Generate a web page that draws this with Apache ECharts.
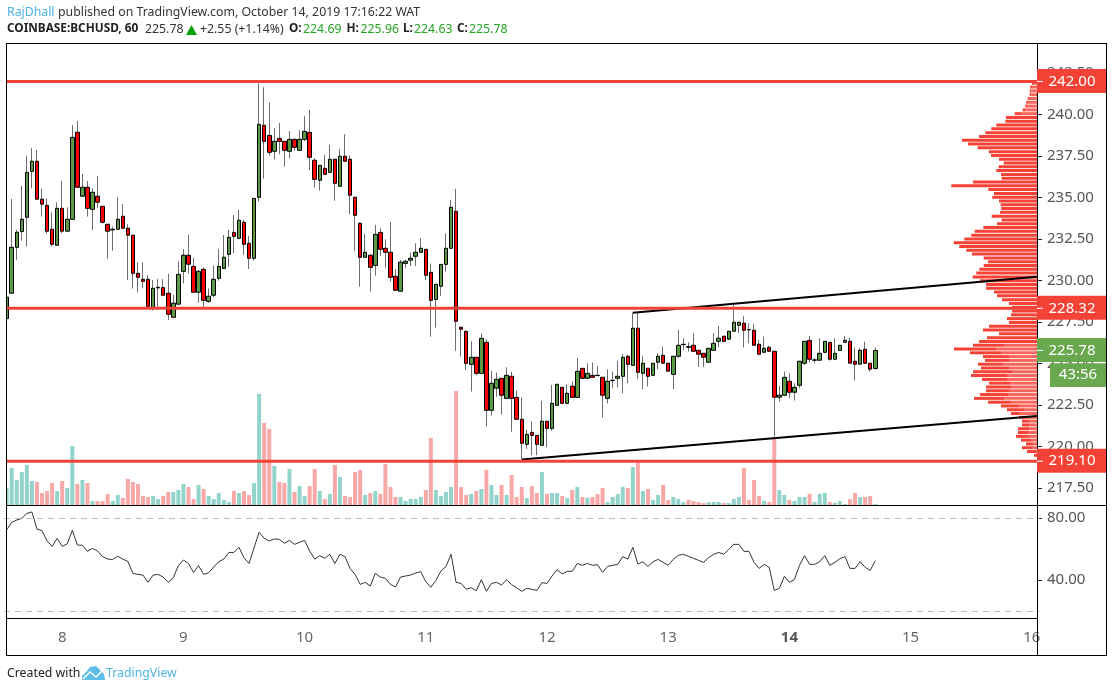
<!DOCTYPE html>
<html style="height: 100%">

<head>
    <meta charset="utf-8">
</head>

<body style="height: 100%; margin: 0; background: #fff">
    <div id="container" style="width: 1113px; height: 691px"></div>
    <script src="https://cdn.jsdelivr.net/npm/echarts@6/dist/echarts.min.js"></script>
    <script type="text/javascript">
        // hourly BCHUSD bars
        var candleOpen = [227.70,229.23,232.00,232.95,233.81,236.58,237.19,234.90,234.53,233.09,
            232.12,234.35,232.97,233.69,238.94,235.08,235.62,234.29,235.08,234.47,
            233.39,233.05,233.09,233.87,233.15,232.73,230.43,230.07,230.07,228.38,
            229.55,229.57,229.23,227.78,228.57,230.55,231.52,230.85,229.29,230.67,
            228.74,229.11,230.13,230.73,231.58,232.90,232.54,233.51,232.24,231.34,
            235.01,239.36,238.75,237.79,238.57,238.39,237.79,238.51,237.85,238.51,
            238.93,237.25,236.04,236.76,236.52,237.31,235.68,237.49,237.31,235.02,
            233.45,231.40,231.52,230.91,232.90,231.94,231.70,230.25,229.35,231.03,
            231.22,231.46,231.70,231.88,230.49,228.86,229.65,230.97,231.94,234.17,
            227.18,226.93,224.94,225.37,224.40,226.27,222.17,223.50,224.10,222.89,
            224.22,222.95,221.63,220.12,220.84,220.66,220.06,221.51,221.08,222.47,
            223.56,222.59,223.62,222.95,224.70,224.10,224.28,224.28,224.16,222.89,
            223.96,224.10,224.22,225.43,224.88,227.12,224.40,224.71,224.28,225.07,
            225.49,225.01,224.34,225.43,226.13,226.01,226.09,225.79,225.61,225.07,
            225.79,226.33,226.64,226.46,226.94,227.30,227.42,227.04,227.00,226.15,
            225.67,225.97,225.73,222.96,223.08,223.92,223.26,223.68,225.01,226.39,
            225.19,225.19,225.67,226.27,225.25,225.79,226.27,226.33,225.13,224.95,
            225.85,225.01,224.69];
        var candleClose = [228.99,232.00,232.91,233.69,236.52,237.19,234.90,234.60,232.97,232.18,
            234.35,232.97,233.69,238.63,235.62,235.62,234.35,235.32,234.72,233.51,
            232.97,233.09,233.69,233.15,232.73,230.43,230.19,229.95,228.44,229.53,
            229.59,229.11,227.96,228.63,230.37,231.52,230.98,229.29,230.55,228.80,
            229.05,230.07,230.85,231.40,232.60,232.66,233.63,232.18,231.34,234.95,
            239.42,238.39,237.73,238.39,238.39,237.85,238.51,238.03,238.51,238.99,
            237.43,236.10,236.94,236.40,237.31,235.86,237.49,237.19,235.14,233.93,
            231.40,231.70,230.79,232.78,231.88,231.70,230.19,229.41,231.10,231.16,
            231.34,231.70,231.94,230.31,228.80,229.77,230.97,231.94,234.41,227.54,
            227.06,225.00,225.37,224.40,226.51,222.17,223.80,224.04,223.08,224.28,
            222.89,221.63,220.18,220.72,220.66,220.12,221.51,221.08,222.59,223.74,
            222.59,223.20,222.95,224.52,224.10,224.40,224.16,224.26,223.08,223.92,
            223.98,224.22,225.37,224.94,227.12,224.46,225.01,224.22,225.01,225.43,
            225.01,224.53,225.43,226.09,226.15,225.97,225.73,225.55,225.37,225.91,
            226.21,226.52,226.33,226.94,227.48,227.48,227.00,227.02,226.09,225.55,
            225.91,225.73,222.96,223.08,224.16,223.26,223.56,225.13,226.33,225.25,
            225.21,225.61,226.33,225.25,225.61,226.09,226.39,225.01,224.95,225.79,
            225.01,224.65,225.78];
        var candleHigh = [228.99,234.92,233.05,235.70,237.51,237.99,237.87,235.52,234.96,234.11,
            234.71,236.00,234.41,239.38,239.62,236.42,236.00,235.56,236.30,234.47,
            233.39,233.25,235.02,234.61,233.39,232.73,231.10,231.10,230.33,230.03,
            230.09,230.09,230.39,229.13,231.14,231.90,232.75,231.36,230.63,230.79,
            229.53,230.91,231.90,232.74,233.05,233.95,234.25,233.65,232.68,234.95,
            241.89,241.65,240.74,239.18,239.50,238.39,239.01,238.57,239.05,239.92,
            240.28,237.37,236.94,237.57,238.17,237.31,237.93,238.81,237.55,235.02,
            233.51,232.80,231.58,233.35,233.15,232.48,233.53,230.69,231.24,231.24,
            231.68,232.24,232.54,231.88,231.03,229.77,230.97,232.84,234.85,235.52,
            227.18,227.01,226.33,225.37,226.81,226.45,224.54,224.44,224.10,224.76,
            224.50,223.36,222.95,220.98,221.51,220.66,222.75,221.51,223.70,223.74,
            223.56,223.74,223.92,225.33,224.70,225.00,225.04,224.84,224.16,224.64,
            224.50,225.15,225.57,225.51,228.06,228.06,225.45,224.71,225.01,225.61,
            226.01,225.01,225.43,227.02,226.52,226.27,226.82,225.79,225.61,225.91,
            226.82,227.26,226.64,226.94,228.55,227.48,227.86,227.42,227.38,226.41,
            226.62,226.05,225.73,223.64,224.51,224.40,223.80,225.13,226.33,226.65,
            225.31,226.52,226.33,226.27,226.52,226.09,226.65,226.56,225.95,225.91,
            226.31,225.01,225.96];
        var candleLow = [227.70,229.23,231.24,232.40,232.04,235.56,234.90,233.85,232.81,232.04,
            232.12,232.85,232.97,233.69,235.62,235.08,233.85,233.05,234.35,233.45,
            231.30,231.80,233.09,233.15,230.03,229.51,229.29,229.53,228.44,228.18,
            228.22,229.11,227.62,227.78,228.57,229.83,230.43,229.29,228.66,228.38,
            228.66,228.98,229.99,230.67,230.83,231.64,232.54,231.54,230.69,231.20,
            234.75,236.14,237.53,237.29,237.61,236.86,237.35,237.83,237.85,238.41,
            236.66,235.60,235.42,236.40,236.52,234.81,235.68,237.19,233.99,231.78,
            229.63,231.40,229.33,230.29,231.48,230.77,229.93,229.41,229.35,230.77,
            230.87,230.87,231.70,230.03,226.61,227.16,229.07,230.53,231.94,225.75,
            225.41,224.60,223.30,224.28,224.40,221.19,221.85,222.99,221.91,222.89,
            220.88,221.63,219.22,219.84,219.46,219.46,220.06,219.94,220.94,222.47,
            222.59,222.59,222.95,222.95,224.10,224.10,224.16,224.26,221.73,222.59,
            223.50,223.56,223.20,223.80,224.88,224.06,223.44,223.60,224.28,224.65,
            225.01,224.53,223.44,225.31,225.81,225.71,225.73,224.79,224.77,225.07,
            225.79,225.97,226.27,226.41,226.94,226.82,225.97,226.21,226.09,225.55,
            225.61,225.73,220.59,222.70,223.04,222.90,222.76,223.50,224.91,225.05,
            225.01,225.19,225.61,225.17,225.25,225.79,226.27,225.01,223.96,224.95,
            224.97,224.51,224.63];
        var volumes = [17,37,25,33,40,24,23,12,14,22,14,24,17,59,21,25,22,4,4,4,
            11,4,10,7,26,23,21,9,8,9,6,9,13,13,15,21,18,6,20,16,
            9,6,12,5,3,14,12,14,10,22,111,82,76,39,23,22,36,13,19,9,
            19,36,14,6,11,40,28,9,8,33,35,10,12,14,11,41,18,8,8,4,
            6,6,8,15,67,15,9,13,18,114,18,10,11,14,16,35,20,10,20,10,
            30,8,18,7,19,12,33,11,12,12,9,7,15,18,8,7,8,11,17,3,
            8,11,18,17,38,42,14,16,5,10,20,5,8,6,3,5,4,3,2,3,
            3,3,2,2,6,8,37,5,25,9,4,3,68,15,10,5,4,8,8,11,
            3,11,12,3,2,4,1,6,12,8,8,9,1];
        var rsiValues = [72.3,77.2,78.7,79.8,83.0,83.9,72.9,71.8,65.2,61.7,66.9,61.7,63.4,72.0,62.6,62.4,58.5,60.4,58.7,55.1,
            53.5,53.3,55.3,53.5,52.0,44.3,43.6,43.2,38.5,43.2,43.6,41.9,38.5,41.5,49.3,52.9,50.7,44.9,49.3,43.6,
            44.7,48.4,51.8,53.5,57.8,57.8,61.1,54.4,50.7,60.9,70.8,66.9,65.2,66.5,66.2,63.7,65.6,63.0,64.3,65.6,
            58.7,53.5,55.7,54.0,56.6,50.7,56.6,55.1,47.5,43.6,37.2,38.5,36.1,44.3,41.9,41.1,37.2,35.5,41.9,42.6,
            43.2,44.5,45.4,38.9,35.3,39.8,45.8,48.8,56.6,38.5,37.8,34.0,35.0,33.1,40.2,32.7,37.8,38.5,36.8,40.2,
            37.0,35.0,32.7,34.6,34.0,33.3,38.3,37.8,42.6,46.7,43.9,45.6,45.6,50.7,49.5,50.7,49.5,49.9,44.9,48.8,
            49.5,50.1,55.1,53.5,61.1,50.3,51.8,48.8,51.8,53.3,51.4,49.5,53.3,55.9,56.6,55.3,54.0,52.7,51.4,54.4,
            56.6,57.8,56.6,59.8,63.0,63.0,58.5,58.5,51.4,47.5,50.1,48.2,33.3,34.6,42.4,38.5,40.4,49.5,55.7,50.1,
            50.1,51.8,55.7,49.5,51.4,53.8,55.1,47.5,47.5,51.8,48.2,46.2,52.5];
        // volume profile rows, top to bottom
        var profileTotal = [5,6.7,7.3,7.3,9.3,10.7,11.7,14.3,22.3,31,31.7,40.7,45.7,51.7,58,75,69,59.3,48.3,46,
            38,33.3,38.3,40.7,36,35.3,64,85.7,48.7,43,44.7,38,36.3,35.7,37,45.3,35.3,40,53.7,62.3,
            65.7,72.7,83.3,77.7,70.7,65,53.3,49,53.3,57.7,60.7,64.3,57,51,51,43,40,35,28,25,
            25,26,30,28,48,54,38,50,58,64,83,67,54,52,59,56,64,66,55,48,
            51,51,57,63,49,36,30,26,18,15,15,19,19,21,16,11,15,10,3];
        var profileLight = [4,5,5.5,5.5,7.5,9,10,12,16,0,0,0,0,0,0,0,0,0,0,0,
            0,0,0,0,0,0,0,0,0,0,0,0,0,0,0,0,0,0,0,0,
            0,0,0,0,0,0,0,0,0,0,0,0,0,0,0,0,0,0,0,0,
            0,0,0,0,0,0,0,0,0,33,41,36,28,28,35,28,25,30,30,27,
            26,28,29,33,26,18,13,18,10,8,8,8,9,8,6,4,5,1,0];
        var dayTicks = { 11: '8', 35: '9', 59: '10', 83: '11', 107: '12', 131: '13', 155: '14', 179: '15', 203: '16' };
        var priceTicks = [217.5, 220, 222.5, 225, 227.5, 230, 232.5, 235, 237.5, 240, 242.5];
        var rsiTicks = [40, 80];
        var rsiBands = [80, 20];
        var levels = [242.00, 228.32, 219.10];
        var lastPrice = 225.78;
        var trendUpper = [[124, 228.06], [204, 230.23]];
        var trendLower = [[102, 219.21], [204, 221.83]];

        var barCount = 205;
        var FONT = '"Noto Sans"';
        var UP = '#5B9A44', DOWN = '#FF0000', RED = '#F44336', TAG_GREEN = '#6AA84F';

        var categories = [];
        for (var i = 0; i < barCount; i++) categories.push(dayTicks[i] || '');

        var wickData = candleOpen.map(function(o, i) {
            return [o, candleClose[i], candleLow[i], candleHigh[i]];
        });
        var bodyData = candleOpen.map(function(o, i) {
            var c = candleClose[i];
            return [o, c, Math.min(o, c), Math.max(o, c)];
        });
        var volumeData = volumes.map(function(v, i) {
            return { value: v, itemStyle: { color: candleClose[i] >= candleOpen[i] ? '#92D4CC' : '#F9A8A8' } };
        });

        function levelLine(price) {
            return {
                type: 'line', xAxisIndex: 0, yAxisIndex: 0, z: 2.9, silent: true, showSymbol: false,
                lineStyle: { color: RED, width: 3 }, data: [[0, price], [204, price]]
            };
        }
        function trendLine(points) {
            return {
                type: 'line', xAxisIndex: 0, yAxisIndex: 0, z: 2.8, silent: true, showSymbol: false,
                lineStyle: { color: '#000', width: 2 }, data: points
            };
        }

        var myChart = echarts.init(document.getElementById('container'), null, { renderer: 'canvas' });
        var option = {
            animation: false,
            grid: [
                { left: 4.13, top: 43, width: 1035.25, height: 462 },
                { left: 7, top: 81.4, width: 1030, height: 375.8 },
                { left: 4.13, top: 505, width: 1035.25, height: 113 }
            ],
            xAxis: [
                { type: 'category', gridIndex: 0, data: categories, show: false },
                { type: 'value', gridIndex: 1, inverse: true, min: 0, max: 1030, show: false },
                {
                    type: 'category', gridIndex: 2, data: categories, z: 4,
                    axisLine: { show: false },
                    axisTick: {
                        alignWithLabel: true, length: 4, lineStyle: { color: '#222' },
                        interval: function(idx) { return !!dayTicks[idx]; }
                    },
                    axisLabel: {
                        interval: function(idx) { return !!dayTicks[idx]; },
                        color: '#666', fontFamily: FONT, fontSize: 15, margin: 12,
                        formatter: function(v) { return v === '14' ? '{b|14}' : v; },
                        rich: { b: { fontWeight: 'bold', color: '#555', fontFamily: FONT, fontSize: 15 } }
                    }
                }
            ],
            yAxis: [
                {
                    type: 'value', gridIndex: 0, position: 'right', offset: -2.38, min: 216.46, max: 244.32, z: 4,
                    splitLine: { show: false }, axisLine: { show: false },
                    axisTick: { show: true, length: 5, lineStyle: { color: '#222' }, customValues: priceTicks },
                    axisLabel: {
                        color: '#555', fontFamily: FONT, fontSize: 15, margin: 10, padding: [2, 0, 0, 0], customValues: priceTicks,
                        formatter: function(v) { return v.toFixed(2); }
                    }
                },
                { type: 'value', gridIndex: 0, min: 0, max: 462, show: false },
                { type: 'category', gridIndex: 1, inverse: true, show: false, data: profileTotal.map(function(v, i) { return i; }) },
                {
                    type: 'value', gridIndex: 2, position: 'right', offset: -2.38, min: 15.5, max: 88.4, z: 4,
                    splitLine: { show: false }, axisLine: { show: false },
                    axisTick: { show: true, length: 5, lineStyle: { color: '#222' }, customValues: rsiTicks },
                    axisLabel: {
                        color: '#555', fontFamily: FONT, fontSize: 15, margin: 10, padding: [2, 0, 0, 0], customValues: rsiTicks,
                        formatter: function(v) { return v.toFixed(2); }
                    }
                }
            ],
            series: [
                {
                    type: 'bar', xAxisIndex: 0, yAxisIndex: 1, z: 1, silent: true, barWidth: 4,
                    data: volumeData
                },
                {
                    type: 'bar', xAxisIndex: 1, yAxisIndex: 2, z: 1.5, silent: true, stack: 'profile', barWidth: 3,
                    itemStyle: { color: '#F7665C' }, data: profileLight
                },
                {
                    type: 'bar', xAxisIndex: 1, yAxisIndex: 2, z: 1.5, silent: true, stack: 'profile', barWidth: 3,
                    itemStyle: { color: RED },
                    data: profileTotal.map(function(v, i) { return v - profileLight[i]; })
                },
                {
                    // wicks only: thin grey candles under the bodies
                    type: 'candlestick', xAxisIndex: 0, yAxisIndex: 0, z: 2, silent: true, barWidth: 0.4,
                    itemStyle: { color: '#6E6E6E', color0: '#6E6E6E', borderColor: '#6E6E6E', borderColor0: '#6E6E6E', borderWidth: 1 },
                    data: wickData
                },
                {
                    type: 'candlestick', xAxisIndex: 0, yAxisIndex: 0, z: 2.1, silent: true, barWidth: 4,
                    itemStyle: { color: UP, color0: DOWN, borderColor: '#000', borderColor0: '#000', borderWidth: 1 },
                    data: bodyData
                },
                trendLine(trendUpper),
                trendLine(trendLower),
                levelLine(levels[0]),
                levelLine(levels[1]),
                levelLine(levels[2]),
                {
                    type: 'line', xAxisIndex: 2, yAxisIndex: 3, z: 2, silent: true, showSymbol: false,
                    lineStyle: { color: '#333', width: 1 }, data: rsiValues,
                    markLine: {
                        silent: true, symbol: 'none', label: { show: false },
                        lineStyle: { color: '#bbb', type: [6, 5], width: 1 },
                        data: rsiBands.map(function(v) { return { yAxis: v }; })
                    }
                }
            ]
        };
        myChart.setOption(option);

        function text(x, y, str, color, extra) {
            return {
                type: 'text', x: x, y: y, z: 8, silent: true,
                style: Object.assign({ text: str, fill: color, font: '12.3px ' + FONT, textVerticalAlign: 'middle' }, extra || {})
            };
        }
        function rect(x, y, w, h, fill, z) {
            return { type: 'rect', silent: true, z: z, shape: { x: x, y: y, width: w, height: h }, style: { fill: fill } };
        }
        function tag(price, color) {
            var y = myChart.convertToPixel({ yAxisIndex: 0 }, price);
            return [
                rect(1037, y - 12.5, 69, 24, color, 6),
                rect(1037, y - 0.5, 6, 1, '#fff', 7),
                text(1072, y, price.toFixed(2), '#fff', { font: '15px ' + FONT, textAlign: 'center' })
            ];
        }

        var bold = { font: 'bold 11.8px ' + FONT };
        var elements = [
            // white strips keep the bars inside the frame, frame lines on top
            rect(0, 44, 6, 575, '#fff', 3),
            rect(1037.5, 44, 70, 575, '#fff', 3),
            rect(6, 43, 1100.5, 1, '#000', 7),
            rect(6, 655, 1100.5, 1, '#000', 7),
            rect(6, 43, 1, 613, '#000', 7),
            rect(1106, 43, 1, 613, '#000', 7),
            rect(1037, 43, 1, 613, '#000', 5),
            rect(6, 505, 1100.5, 1, '#000', 7),
            rect(6, 618, 1031, 1, '#000', 7),
            text(7, 12, 'RajDhall', '#4DB3E6'),
            text(58, 12, 'published on TradingView.com, October 14, 2019 17:16:22 WAT', '#333'),
            text(7, 29, 'COINBASE:BCHUSD, 60', '#222', bold),
            text(145, 29, '225.78', '#333'),
            { type: 'polygon', silent: true, z: 8, shape: { points: [[186, 35], [197, 35], [191.5, 25]] }, style: { fill: '#0A9E0A' } },
            text(200, 29, '+2.55 (+1.14%)', '#333'),
            text(289, 29, 'O:', '#222', bold),
            text(303, 29, '224.69', '#22A522'),
            text(346.5, 29, 'H:', '#222', bold),
            text(360.5, 29, '225.96', '#22A522'),
            text(403, 29, 'L:', '#222', bold),
            text(414, 29, '224.63', '#22A522'),
            text(457, 29, 'C:', '#222', bold),
            text(469, 29, '225.78', '#22A522'),
            text(7, 673, 'Created with', '#222'),
            {
                type: 'polygon', silent: true, z: 8,
                shape: { points: [[82, 680], [82, 676], [87, 671], [90, 667], [96, 666], [100, 670], [104, 674], [105, 680]] },
                style: { fill: '#5CBDE8' }
            },
            {
                type: 'polyline', silent: true, z: 9,
                shape: { points: [[83, 679], [90, 672], [96, 677], [102, 671]] },
                style: { stroke: '#fff', lineWidth: 1.6, fill: 'none' }
            },
            text(106, 673, 'TradingView', '#4DB3E6'),
            rect(1050, 363.3, 56, 23.7, TAG_GREEN, 6),
            text(1078, 375, '43:56', '#fff', { font: '15px ' + FONT, textAlign: 'center' })
        ].concat(tag(levels[0], RED), tag(levels[1], RED), tag(lastPrice, TAG_GREEN), tag(levels[2], RED));

        myChart.setOption({ graphic: { elements: elements } });
    </script>
</body>

</html>
